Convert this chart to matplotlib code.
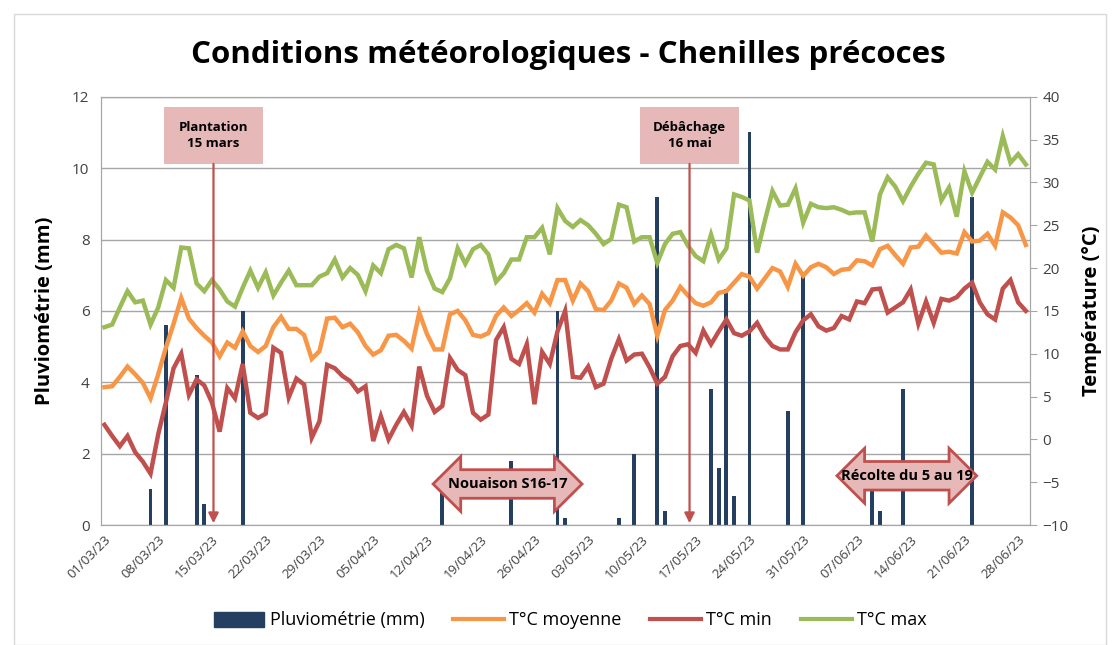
import numpy as np
import pandas as pd
import matplotlib
matplotlib.use("Agg")
import matplotlib.pyplot as plt
from matplotlib.patches import Rectangle, Polygon
from matplotlib.lines import Line2D

plt.rcParams['font.family'] = ['Open Sans', 'DejaVu Sans']

# daily data, 01/03/23 -> 29/06/23
dates = pd.date_range("2023-03-01", periods=121, freq="D")

rain = [0, 0, 0, 0, 0, 0, 1.0, 0, 5.6, 0,
        0, 0, 4.2, 0.6, 0, 0, 0, 0, 6.0, 0,
        0, 0, 0, 0, 0, 0, 0, 0, 0, 0,
        0, 0, 0, 0, 0, 0, 0, 0, 0, 0,
        0, 0, 0, 0, 1.0, 0, 0, 0, 0, 0,
        0, 0, 0, 1.8, 0, 0, 0, 0, 0, 6.0,
        0.2, 0, 0, 0, 0, 0, 0, 0.2, 0, 2.0,
        0, 0, 9.2, 0.4, 0, 0, 0, 0, 0, 3.8,
        1.6, 6.6, 0.8, 0, 11.0, 0, 0, 0, 0, 3.2,
        0, 7.0, 0, 0, 0, 0, 0, 0, 0, 0,
        1.0, 0.4, 0, 0, 3.8, 0, 0, 0, 0, 0,
        0, 0, 0, 9.2, 0, 0, 0, 0, 0, 0,
        0]

t_moy = [6.1, 6.2, 7.3, 8.5, 7.6, 6.6, 4.8, 7.6, 10.7, 13.5,
         16.5, 14.1, 13.0, 12.1, 11.3, 9.7, 11.3, 10.7, 12.6, 10.9,
         10.2, 10.9, 13.1, 14.3, 12.9, 12.9, 12.2, 9.4, 10.3, 14.1,
         14.2, 13.1, 13.5, 12.5, 10.9, 9.9, 10.4, 12.1, 12.2, 11.5,
         10.6, 14.8, 12.3, 10.5, 10.5, 14.6, 15.0, 13.9, 12.2, 12.0,
         12.4, 14.4, 15.4, 14.4, 15.1, 15.9, 14.8, 17.0, 15.9, 18.6,
         18.6, 16.2, 18.2, 17.3, 15.2, 15.1, 16.2, 18.2, 17.7, 15.8,
         16.8, 15.8, 12.1, 15.1, 16.2, 17.8, 16.8, 15.9, 15.6, 16.0,
         17.1, 17.3, 18.3, 19.3, 19.0, 17.6, 18.8, 20.0, 19.6, 17.8,
         20.5, 19.1, 20.1, 20.5, 20.1, 19.3, 19.8, 19.9, 20.9, 20.8,
         20.3, 22.2, 22.6, 21.5, 20.5, 22.4, 22.5, 23.8, 22.8, 21.8,
         21.9, 21.7, 24.2, 23.1, 23.2, 24.0, 22.6, 26.5, 25.9, 25.0,
         22.7]

t_min = [1.7, 0.4, -0.8, 0.4, -1.5, -2.6, -4.0, 0.6, 4.3, 8.3,
         10.0, 5.2, 7.0, 6.3, 4.3, 0.9, 6.0, 4.8, 8.8, 3.1,
         2.5, 3.0, 10.7, 10.1, 4.9, 7.1, 6.4, 0.2, 2.1, 8.7,
         8.3, 7.4, 6.8, 5.6, 6.2, -0.2, 2.7, 0.0, 1.7, 3.2,
         1.6, 8.5, 5.1, 3.2, 3.9, 9.5, 8.1, 7.5, 3.1, 2.3,
         2.9, 11.6, 13.1, 9.4, 8.8, 11.1, 4.1, 10.2, 8.8, 12.6,
         15.0, 7.3, 7.2, 8.5, 6.1, 6.5, 9.4, 11.7, 9.2, 9.9,
         10.0, 8.4, 6.5, 7.3, 9.7, 10.9, 11.1, 10.1, 12.7, 11.1,
         12.6, 14.0, 12.4, 12.1, 12.6, 13.6, 12.0, 10.9, 10.5, 10.5,
         12.5, 13.9, 14.6, 13.2, 12.7, 13.0, 14.4, 14.0, 16.1, 15.9,
         17.5, 17.6, 14.8, 15.4, 16.0, 17.5, 13.5, 16.1, 13.6, 16.4,
         16.2, 16.6, 17.6, 18.3, 16.0, 14.6, 14.0, 17.6, 18.6, 16.0,
         15.0]

t_max = [13.1, 13.4, 15.4, 17.3, 16.0, 16.2, 13.4, 15.4, 18.6, 17.7,
         22.4, 22.3, 18.2, 17.3, 18.6, 17.5, 16.1, 15.5, 17.7, 19.7,
         17.7, 19.5, 16.8, 18.3, 19.7, 18.0, 18.0, 18.0, 19.0, 19.4,
         21.0, 18.9, 20.0, 19.2, 17.3, 20.3, 19.4, 22.2, 22.7, 22.3,
         18.9, 23.6, 19.7, 17.6, 17.2, 18.8, 22.3, 20.5, 22.2, 22.7,
         21.6, 18.4, 19.4, 21.0, 21.0, 23.6, 23.6, 24.7, 21.6, 27.0,
         25.5, 24.8, 25.6, 25.0, 24.0, 22.8, 23.4, 27.4, 27.1, 23.1,
         23.6, 23.6, 20.6, 22.8, 24.0, 24.2, 22.6, 21.4, 20.8, 23.9,
         21.0, 22.3, 28.6, 28.3, 27.9, 21.8, 25.5, 29.0, 27.3, 27.4,
         29.3, 25.3, 27.5, 27.1, 27.0, 27.1, 26.8, 26.4, 26.5, 26.5,
         23.1, 28.6, 30.6, 29.5, 27.8, 29.5, 31.0, 32.3, 32.1, 27.9,
         29.4, 26.0, 31.3, 28.8, 30.6, 32.4, 31.5, 35.4, 32.3, 33.3,
         32.1]

# events: (label, day index)
events = [("Plantation\n15 mars", 14.2), ("Débâchage\n16 mai", 76.2)]
# periods: (label, first day, last day)
periods = [("Nouaison S16-17", 42.8, 62.2), ("Récolte du 5 au 19", 95.4, 113.6)]

c_rain = '#243F60'
c_moy = '#F79646'
c_min = '#C0504D'
c_max = '#9BBB59'
c_box = '#E6B9B8'

x = np.arange(len(dates))

fig = plt.figure(figsize=(11.18, 6.45), dpi=100)
fig.patches.append(Rectangle((14 / 1118, 0.0), 1092 / 1118, 1 - 14 / 645, transform=fig.transFigure,
                             fill=False, edgecolor='#D9D9D9', lw=1))
ax = fig.add_axes([0.090, 0.186, 0.831, 0.664])
ax2 = ax.twinx()

ax.bar(x, rain, width=0.5, color=c_rain, zorder=2)
ax.set_ylim(0, 12)
ax.set_yticks(np.arange(0, 13, 2))
ax.set_xlim(-0.5, len(dates) - 0.5)
ax.grid(axis='y', color='#A6A6A6', lw=1, zorder=0)
ax.set_axisbelow(True)

ax2.plot(x, t_moy, color=c_moy, lw=3.2, solid_joinstyle='miter')
ax2.plot(x, t_min, color=c_min, lw=3.2, solid_joinstyle='miter')
ax2.plot(x, t_max, color=c_max, lw=3.2, solid_joinstyle='miter')
ax2.set_ylim(-10, 40)
ax2.set_yticks(np.arange(-10, 41, 5))

xt = x[::7]
ax.set_xticks(xt)
ax.set_xticklabels([d.strftime("%d/%m/%y") for d in dates[::7]], rotation=45,
                   ha='right', rotation_mode='anchor', fontsize=9.5, color='#404040')
ax.tick_params(axis='x', length=0, pad=6)
ax.tick_params(axis='y', length=0, labelsize=11, colors='#404040', pad=8)
ax2.tick_params(axis='y', length=5, labelsize=11, colors='#404040', pad=4, color='#A6A6A6')

for a in (ax, ax2):
    for s in a.spines.values():
        s.set_color('#A6A6A6')

ax.set_ylabel("Pluviométrie (mm)", fontsize=14.5, fontweight='bold', labelpad=12)
ax2.set_ylabel("Température (°C)", fontsize=14.5, fontweight='bold', labelpad=10)
fig.suptitle("Conditions météorologiques - Chenilles précoces", fontsize=22.5,
             fontweight='bold', x=0.508, y=0.914, va='center')

# event boxes with arrows
for lab, d in events:
    ax2.add_patch(Rectangle((d - 6.4, 10.12), 12.8, 1.6, transform=ax.transData,
                            facecolor=c_box, edgecolor='none', zorder=5))
    ax2.text(d, 10.92, lab, transform=ax.transData, ha='center', va='center',
             fontsize=9.5, fontweight='bold', linespacing=1.3, zorder=6)
    ax2.annotate('', xy=(d, 0.05), xytext=(d, 10.12), xycoords=ax.transData,
                 textcoords=ax.transData,
                 arrowprops=dict(arrowstyle='-|>', color=c_min, lw=1.6,
                                 mutation_scale=15, shrinkA=0, shrinkB=0), zorder=6)

# double arrows for periods
for (lab, x0, x1), yc in zip(periods, [1.15, 1.38]):
    h, a_, b_ = 3.6, 0.77, 0.40
    pts = [(x0, yc), (x0 + h, yc + a_), (x0 + h, yc + b_), (x1 - h, yc + b_),
           (x1 - h, yc + a_), (x1, yc), (x1 - h, yc - a_), (x1 - h, yc - b_),
           (x0 + h, yc - b_), (x0 + h, yc - a_)]
    ax2.add_patch(Polygon(pts, closed=True, transform=ax.transData, facecolor=c_box,
                          edgecolor=c_min, lw=2, zorder=5))
    ax2.text((x0 + x1) / 2, yc, lab, transform=ax.transData, ha='center', va='center',
             fontsize=10.5, fontweight='bold', zorder=6)

handles = [Rectangle((0, 0), 1, 1, color=c_rain),
           Line2D([], [], color=c_moy, lw=3),
           Line2D([], [], color=c_min, lw=3),
           Line2D([], [], color=c_max, lw=3)]
labels = ["Pluviométrie (mm)", "T°C moyenne", "T°C min", "T°C max"]
fig.legend(handles, labels, loc='center', bbox_to_anchor=(0.51, 0.038), ncol=4,
           frameon=False, fontsize=13, handlelength=2.8, handleheight=0.9,
           columnspacing=1.6, handletextpad=0.3)

fig.savefig("out.png", dpi=100)
